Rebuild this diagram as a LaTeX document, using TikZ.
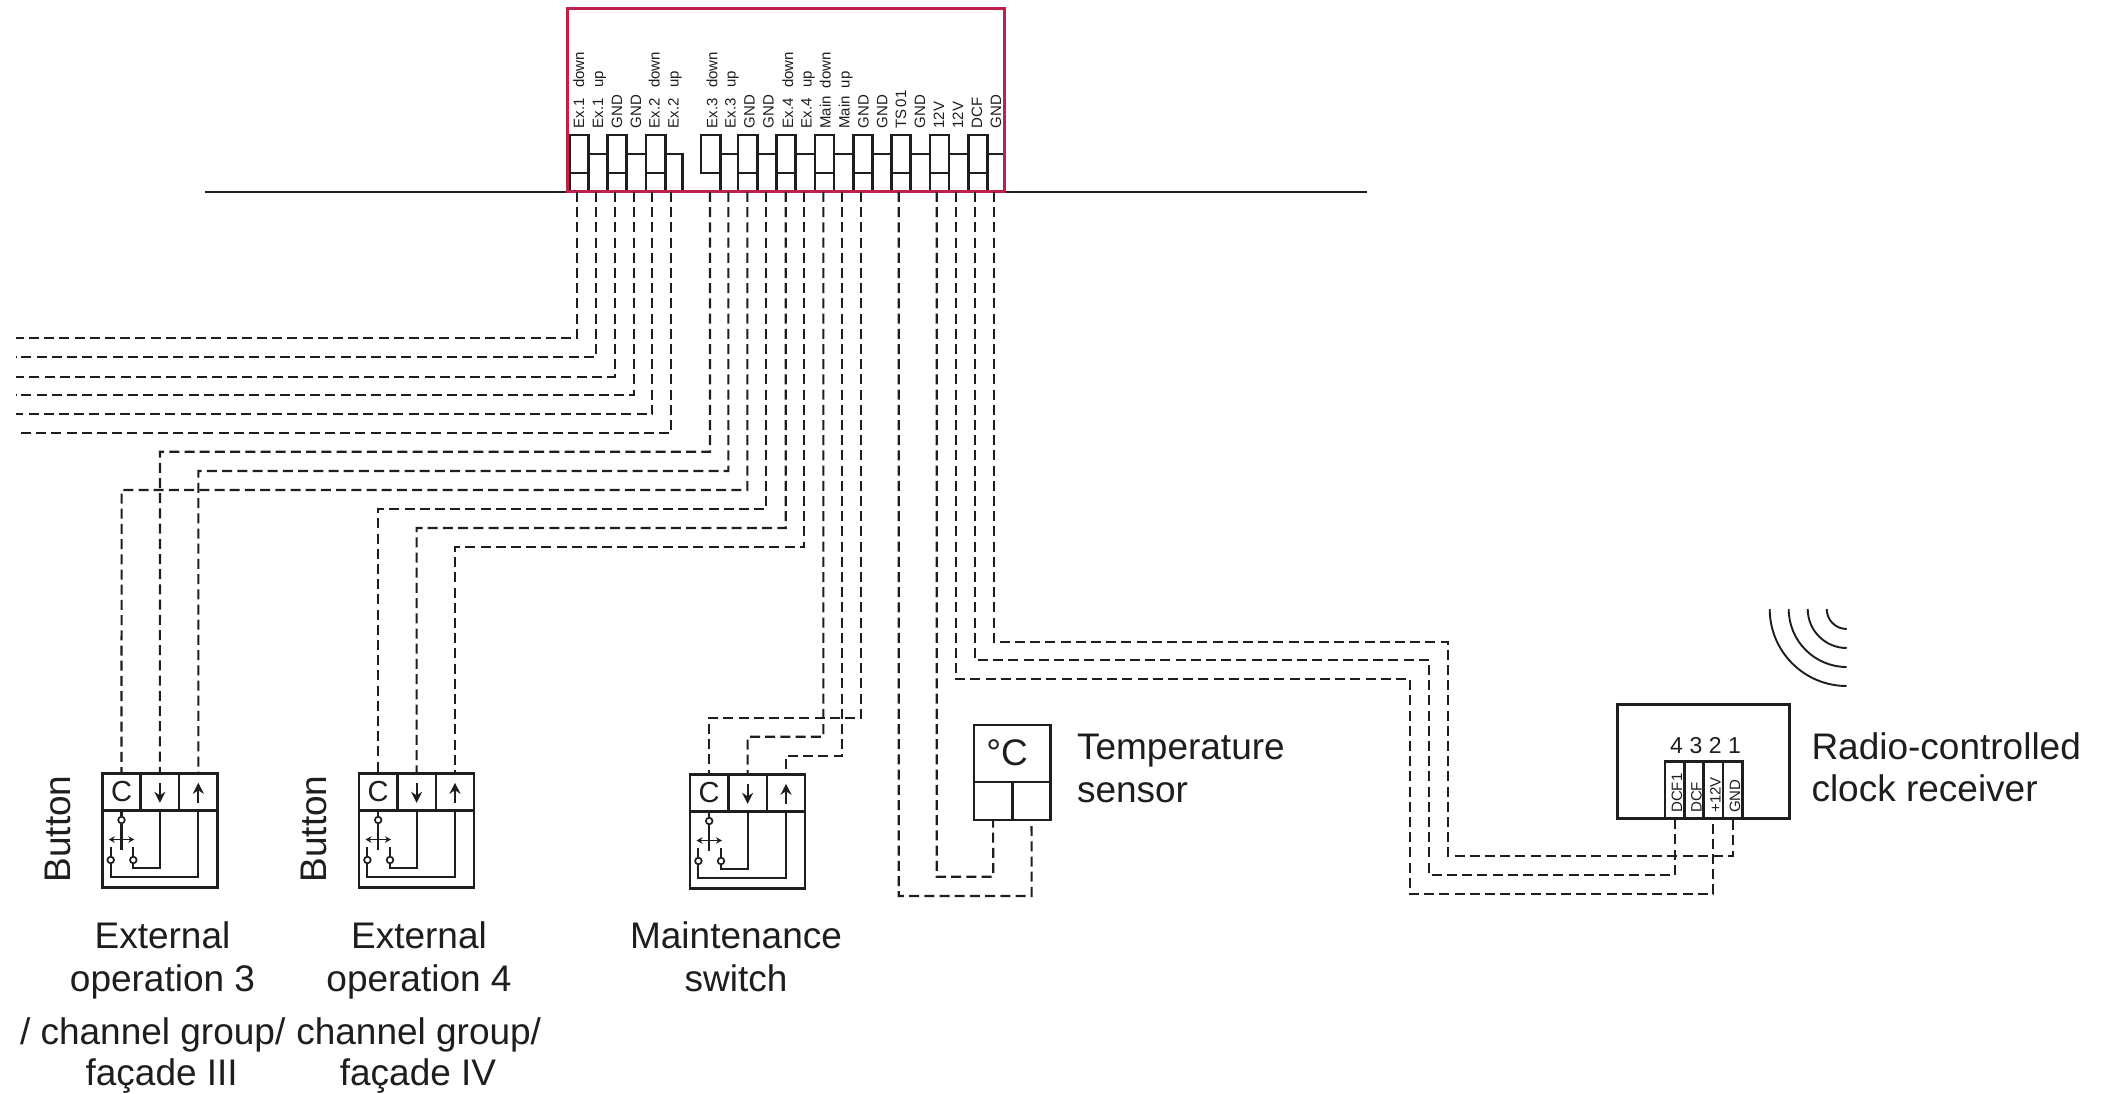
\documentclass[tikz,border=0pt]{standalone}
\usepackage{fontspec}
\setmainfont{Liberation Sans}
\usetikzlibrary{arrows.meta}
\definecolor{ink}{RGB}{30,30,30}
\definecolor{crim}{RGB}{192,32,76}
\newcommand{\fsz}[1]{\fontsize{#1}{#1}\selectfont}
\newcommand{\pairlab}[2]{\makebox[40.5pt][l]{#1}#2}
\tikzset{
  x=1pt,y=-1pt,
  wire/.style={draw=ink,line width=2.1pt,dash pattern=on 10pt off 5.2pt},
  solidline/.style={draw=ink,line width=2.5pt},
  thinline/.style={draw=ink,line width=2.1pt},
  cell/.style={draw=ink,line width=2.5pt,inner sep=0pt,outer sep=0pt,anchor=north west,minimum width=38.4pt,minimum height=37.4pt,text=ink,font=\fsz{29}},
  bodybox/.style={draw=ink,line width=2.5pt,inner sep=0pt,outer sep=0pt,anchor=north west},
  termlabel/.style={rotate=90,anchor=base west,inner sep=0pt,outer sep=0pt,text=ink,font=\fsz{15}},
  caption/.style={inner sep=0pt,outer sep=0pt,text=ink,font=\fontsize{37}{42.5}\selectfont,align=center,anchor=north},
  captionleft/.style={caption,align=left,anchor=north west},
  sideword/.style={rotate=90,anchor=base,inner sep=0pt,outer sep=0pt,text=ink,font=\fsz{37}},
  lineword/.style={inner sep=0pt,outer sep=0pt,anchor=base,text=ink,font=\fsz{37}},
  contact/.style={circle,draw=ink,line width=1.7pt,fill=white,inner sep=0pt,minimum size=6.6pt},
  cellarrow/.style={draw=ink,line width=2.1pt,-{Stealth[length=11pt,width=11pt]}},
  dblarrow/.style={draw=ink,line width=1.9pt,{Stealth[length=6pt,width=6.5pt]}-{Stealth[length=6pt,width=6.5pt]}}
}
\newcommand{\btnunit}[3]{%
  \begin{scope}[shift={(#2,#3)}]
    \node[bodybox,minimum width=115.2pt,minimum height=114pt] (#1b) at (0,0) {};
    \node[cell] (#1c) at (0,0) {C};
    \node[cell] (#1d) at (38.4,0) {};
    \node[cell] (#1u) at (76.8,0) {};
    \draw[cellarrow] (57.6,9.5) -- (57.6,29.5);
    \draw[cellarrow] (96,29.5) -- (96,9.5);
    \node[contact] (#1k0) at (19.2,46.7) {};
    \coordinate (#1q1) at (8.4,103.4);
    \coordinate (#1q2) at (31,94.4);
    \draw[thinline] (#1c.south) -- (#1k0);
    \draw[thinline] (#1k0) -- (19.2,77);
    \draw[dblarrow] (6.5,66.2) -- (32,66.2);
    \draw[thinline] (8.4,73.4) -- (#1q1) -| (#1u.south);
    \draw[thinline] (31,73.4) -- (#1q2) -| (#1d.south);
    \node[contact] (#1k1) at (8.4,86.7) {};
    \node[contact] (#1k2) at (31,86.7) {};
  \end{scope}}
\begin{document}
\begin{tikzpicture}
\useasboundingbox[fill=white] (0,0) rectangle (2106,1094);

% wall line
\coordinate (wallL) at (205,192);
\coordinate (wallR) at (1367,192);
\draw[solidline] (wallL) -- (wallR);

% terminal strip
\foreach \a/\b in {569.3/588.3,607.7/626.7,646/665.3,738/757.3,776.7/795.7,815/834,853.3/872.3,891.7/910.7,930/949,968.3/987.7}{
  \draw[solidline] (\a,192) -- (\a,135) -- (\b,135) -- (\b,192);
  \draw[solidline] (\a,173) -- (\b,173);
}
\foreach \a/\b in {588.3/607.7,626.7/646,720.3/738,757.3/776.7,795.7/815,834/853.3,872.3/891.7,910.7/930,949/968.3,987.7/1003}{
  \draw[solidline] (\a,154) -- (\b,154);
}
\draw[solidline] (665.3,154) -- (682.3,154) -- (682.3,192);
\draw[solidline] (720.3,192) -- (720.3,135) -- (701,135) -- (701,173) -- (720.3,173);

% pins and labels
\foreach \n/\px/\lab in {
  1/576.7/{\pairlab{Ex.1}{down}},2/595.7/{\pairlab{Ex.1}{up}},3/614.7/GND,4/633.7/GND,
  5/652.3/{\pairlab{Ex.2}{down}},6/671.3/{\pairlab{Ex.2}{up}},
  7/710/{\pairlab{Ex.3}{down}},8/728.3/{\pairlab{Ex.3}{up}},9/747.3/GND,10/766.3/GND,
  11/785.7/{\pairlab{Ex.4}{down}},12/804.3/{\pairlab{Ex.4}{up}},
  13/823.3/{\pairlab{Main}{down}},14/842.3/{\pairlab{Main}{up}},
  15/861.3/GND,16/880/GND,17/898.7/{TS\kern2pt 01},18/917.7/GND,19/936.7/12V,20/955.7/12V,21/974.7/DCF,22/993.7/GND}{
  \coordinate (p\n) at (\px,192);
  \node[termlabel] (t\n) at (\px+7.3,128.5) {\lab};
}
\node[draw=crim,line width=3pt,inner sep=0pt,outer sep=0pt,minimum width=437pt,minimum height=183pt,anchor=north west] (housing) at (567,9) {};

% free wires to the left
\foreach \n/\yy in {1/338.3,2/357.3,3/376.7,4/395.3,5/414.3,6/433.3}{
  \coordinate (e\n) at (16,\yy);
  \draw[wire] (p\n) |- (e\n);
}

% button units
\btnunit{a}{102.3}{773.3}
\btnunit{f}{359}{773.3}
\btnunit{m}{690}{774.3}

% wires to units
\coordinate (ja) at (160,451.7);
\coordinate (jb) at (198.4,471);
\coordinate (jc) at (121.6,490);
\draw[wire] (p7) |- (ja) -- (ad.north);
\draw[wire] (p8) |- (jb) -- (au.north);
\draw[wire] (p9) |- (jc) -- (ac.north);
\coordinate (jd) at (378.2,509);
\coordinate (je) at (416.6,528);
\coordinate (jf) at (455,547);
\draw[wire] (p10) |- (jd) -- (fc.north);
\draw[wire] (p11) |- (je) -- (fd.north);
\draw[wire] (p12) |- (jf) -- (fu.north);
\coordinate (jg) at (709.2,717.7);
\coordinate (jh) at (747.6,736.7);
\coordinate (ji) at (786,755.7);
\draw[wire] (p15) |- (jg) -- (mc.north);
\draw[wire] (p13) |- (jh) -- (md.north);
\draw[wire] (p14) |- (ji) -- (mu.north);

% temperature sensor
\node[bodybox,minimum width=76.7pt,minimum height=57pt] (tsTop) at (974,725) {};
\node[bodybox,minimum width=38.35pt,minimum height=38pt] (tsL) at (974,782) {};
\node[bodybox,minimum width=38.35pt,minimum height=38pt] (tsR) at (1012.35,782) {};
\node[lineword] (tsT) at (1007,765) {°C};
\coordinate (jt1) at (993.2,876.7);
\coordinate (jt2) at (1031.6,896);
\draw[wire] (p19) |- (jt1) -- (tsL.south);
\draw[wire] (p17) |- (jt2) -- (tsR.south);
\node[captionleft] (tsCap) at (1077,734.5) {Temperature\\sensor};

% clock receiver
\node[bodybox,minimum width=171.6pt,minimum height=114pt] (rc) at (1617.7,704.3) {};
\foreach \n/\a/\num/\lab in {4/1665/4/DCF1,3/1684.5/3/DCF,2/1703.7/2/+12V,1/1723/1/GND}{
  \node[bodybox,minimum width=19.3pt,minimum height=56.6pt] (rt\n) at (\a,761.7) {};
  \node[inner sep=0pt,anchor=base,text=ink,font=\fsz{23}] (rn\n) at (\a+11.5,753.3) {\num};
  \node[termlabel] (rl\n) at (\a+17,812.7) {\lab};
}
\coordinate (k1) at (993.7,642);
\coordinate (k1b) at (1448,856);
\coordinate (k2) at (974.7,660);
\coordinate (k2b) at (1429,875);
\coordinate (k3) at (955.7,679);
\coordinate (k3b) at (1410,894);
\draw[wire] (p22) |- (k1b |- k1) -- (k1b) -| (rt1.south);
\draw[wire] (p21) |- (k2b |- k2) -- (k2b) -| (rt4.south);
\draw[wire] (p20) |- (k3b |- k3) -- (k3b) -| (rt2.south);
\node[captionleft] (rcCap) at (1811.5,732.5) {Radio-controlled\\clock receiver};

% radio waves
\foreach \r in {20,39,58,77}{
  \draw[thinline,line width=1.9pt] (1846.7-\r,609) arc[start angle=180,end angle=270,radius=\r pt];
}

% captions
\node[sideword] (w1) at (70,829) {Button};
\node[sideword] (w2) at (326,829) {Button};
\node[caption] (c1) at (162.5,921.7) {External\\operation 3};
\node[lineword,anchor=base west] (c1b) at (20,1044) {/ channel group/};
\node[lineword] (c1c) at (161.7,1085.5) {façade III};
\node[caption] (c2) at (419,921.7) {External\\operation 4};
\node[lineword] (c2b) at (418.7,1044) {channel group/};
\node[lineword] (c2c) at (418,1085.5) {façade IV};
\node[caption] (c3) at (736,921.7) {Maintenance\\switch};
\end{tikzpicture}
\end{document}
